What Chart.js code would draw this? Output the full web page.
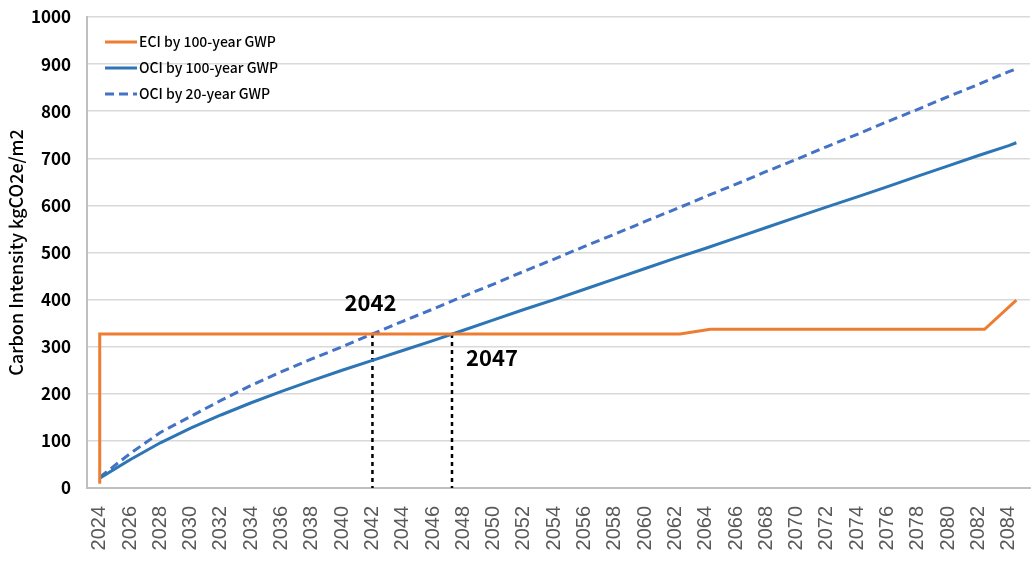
<!DOCTYPE html>
<html>
<head>
<meta charset="utf-8">
<script src="https://cdn.jsdelivr.net/npm/chart.js@4/dist/chart.umd.min.js"></script>
<style>
  html, body { margin: 0; padding: 0; background: #fff; }
  #wrap { width: 1031px; height: 565px; position: relative; }
</style>
</head>
<body>
<div id="wrap"><canvas id="carbon-chart"></canvas></div>
<script>
'use strict';

// valores
var years = [2024, 2026, 2028, 2030, 2032, 2034, 2036, 2038, 2040, 2042, 2044, 2046, 2048, 2050, 2052, 2054,
             2056, 2058, 2060, 2062, 2064, 2066, 2068, 2070, 2072, 2074, 2076, 2078, 2080, 2082, 2084, 2084.5];
var oci100 = [21, 60, 96, 127, 155, 181, 205, 228, 250, 271, 292, 313, 335, 357, 379, 400,
              422, 444, 466, 488, 509, 531, 553, 575, 597, 618, 640, 662, 684, 706, 727, 733];
var oci20 = [23, 73, 118, 152, 186, 218, 247, 274, 300, 327, 354, 380, 407, 433, 460, 486,
             513, 539, 566, 592, 619, 645, 672, 698, 725, 751, 778, 804, 831, 857, 884, 890];
var eciYears = [2024, 2024, 2062.3, 2064.3, 2082.4, 2084.5];
var eci = [9, 327, 327, 337, 337, 399];

var tickYears = [2024, 2026, 2028, 2030, 2032, 2034, 2036, 2038, 2040, 2042, 2044, 2046, 2048, 2050, 2052, 2054,
                 2056, 2058, 2060, 2062, 2064, 2066, 2068, 2070, 2072, 2074, 2076, 2078, 2080, 2082, 2084];
var seriesNames = ['ECI by 100-year GWP', 'OCI by 100-year GWP', 'OCI by 20-year GWP'];

// anos em que OCI cruza ECI
var crossYears = [2042, 2047.25];
var crossLabels = ['2042', '2047'];
var crossLevel = 327;

function pts(xs, ys) {
  return xs.map(function (x, i) { return { x: x, y: ys[i] }; });
}

var FONT = "'Noto Sans CJK KR', 'Noto Sans', sans-serif";

// legenda dentro da area do grafico
var insideLegend = {
  id: 'insideLegend',
  afterDraw: function (chart) {
    var ctx = chart.ctx;
    var left = chart.chartArea.left;
    ctx.save();
    ctx.font = '500 14px ' + FONT;
    ctx.textBaseline = 'middle';
    for (var i = 0; i < seriesNames.length; i++) {
      var ds = chart.data.datasets[i];
      var y = 42 + i * 26;
      ctx.strokeStyle = ds.borderColor;
      ctx.lineWidth = 3;
      ctx.setLineDash(ds.borderDash || []);
      ctx.beginPath();
      ctx.moveTo(left + 18, y);
      ctx.lineTo(left + 50, y);
      ctx.stroke();
      ctx.setLineDash([]);
      ctx.fillStyle = '#000';
      ctx.fillText(seriesNames[i], left + 52, y);
    }
    ctx.restore();
  }
};

// rotulos das linhas tracejadas
var crossText = {
  id: 'crossText',
  afterDatasetsDraw: function (chart) {
    var ctx = chart.ctx;
    var sx = chart.scales.x, sy = chart.scales.y;
    ctx.save();
    ctx.font = 'bold 22px ' + FONT;
    ctx.fillStyle = '#000';
    ctx.textAlign = 'center';
    ctx.textBaseline = 'middle';
    var yc = sy.getPixelForValue(crossLevel);
    ctx.fillText(crossLabels[0], sx.getPixelForValue(crossYears[0]) - 2, yc - 31);
    ctx.fillText(crossLabels[1], sx.getPixelForValue(crossYears[1]) + 40, yc + 24);
    ctx.restore();
  }
};

var chart = new Chart(document.getElementById('carbon-chart'), {
  type: 'line',
  data: {
    datasets: [
      { label: seriesNames[0], data: pts(eciYears, eci), borderColor: '#ED7D31', borderWidth: 3 },
      { label: seriesNames[1], data: pts(years, oci100), borderColor: '#2E75B6', borderWidth: 3 },
      { label: seriesNames[2], data: pts(years, oci20), borderColor: '#4472C4', borderWidth: 3, borderDash: [9, 5] },
      { data: pts([crossYears[0], crossYears[0]], [crossLevel, 0]), borderColor: '#000', borderWidth: 2.5, borderDash: [4, 4] },
      { data: pts([crossYears[1], crossYears[1]], [crossLevel, 0]), borderColor: '#000', borderWidth: 2.5, borderDash: [4, 4] }
    ]
  },
  options: {
    responsive: true,
    maintainAspectRatio: false,
    animation: false,
    parsing: false,
    elements: { point: { radius: 0 }, line: { tension: 0, borderCapStyle: 'butt' } },
    layout: { padding: { top: 17, right: 1, left: 0, bottom: 0 } },
    plugins: { legend: { display: false }, tooltip: { enabled: false } },
    scales: {
      x: {
        type: 'linear',
        min: 2023.16,
        max: 2085.4,
        afterBuildTicks: function (scale) {
          scale.ticks = tickYears.map(function (v) { return { value: v }; });
        },
        afterFit: function (scale) {
          scale.height = 77;
          scale.paddingLeft = 0;
          scale.paddingRight = 0;
        },
        grid: { display: false },
        border: { display: true, color: '#bfbfbf', width: 2 },
        ticks: {
          minRotation: 90,
          maxRotation: 90,
          padding: 10,
          color: '#595959',
          font: { family: "'Liberation Sans', Arial, sans-serif", size: 20 },
          callback: function (v) { return String(v); }
        }
      },
      y: {
        min: 0,
        max: 1000,
        afterFit: function (scale) {
          scale.width = 87;
          scale.paddingTop = 0;
          scale.paddingBottom = 0;
        },
        grid: { color: '#d9d9d9', lineWidth: 1.5, drawTicks: false },
        border: { display: true, color: '#bfbfbf', width: 2 },
        ticks: {
          stepSize: 100,
          padding: 16,
          color: '#000',
          font: { family: FONT, size: 17, weight: '600' },
          callback: function (v) { return String(v); }
        },
        title: {
          display: true,
          text: 'Carbon Intensity kgCO2e/m2',
          color: '#000',
          padding: { top: 5, bottom: 0 },
          font: { family: FONT, size: 18, weight: '500' }
        }
      }
    }
  },
  plugins: [insideLegend, crossText]
});
</script>
</body>
</html>
